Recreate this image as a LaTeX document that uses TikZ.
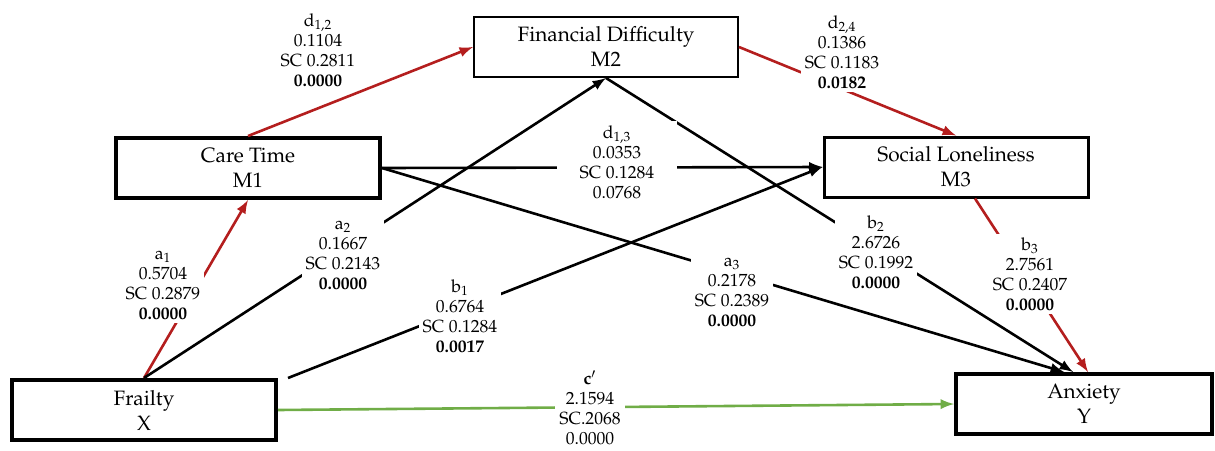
\documentclass[tikz,border=0pt]{standalone}
\usepackage[T1]{fontenc}
\usepackage{mathpazo}
\usepackage{xcolor}
\usetikzlibrary{arrows}

\definecolor{pathred}{RGB}{180,30,30}
\definecolor{pathgreen}{RGB}{112,173,71}

\begin{document}
\begin{tikzpicture}[
    x=0.5pt, y=-0.5pt,
    box/.style={rectangle, draw, line width=2pt, minimum width=132pt, minimum height=30pt, inner sep=0pt, align=center, font=\fontsize{10.4}{12.5}\selectfont},
    coef/.style={fill=white, inner sep=2pt, align=center, font=\fontsize{8.8}{10}\selectfont},
    link/.style={-latex, line width=1.3pt}
]
    \useasboundingbox (0,0) rectangle (1215,450);

    \node[box] (frailty) at (144,410) {Frailty\\X};
    \node[box] (care) at (248,168) {Care Time\\M1};
    \node[box, line width=1pt] (finance) at (606,47) {Financial Difficulty\\M2};
    \node[box, line width=1.5pt] (lonely) at (956,167) {Social Loneliness\\M3};
    \node[box, minimum width=128pt] (anxiety) at (1084,404) {Anxiety\\Y};

    \draw[link, pathred] (frailty.north) -- (care.south);
    \draw[link] (frailty.north) -- (finance.south);
    \draw[link] ([xshift=5pt]frailty.north east) -- (lonely.west);
    \draw[link, pathred] (care.north) -- (finance.west);
    \draw[link] (care.east) -- (lonely.west);
    \draw[link] (care.east) -- ([xshift=-10pt]anxiety.north);
    \draw[link] (finance.south) -- ([xshift=-5.5pt]anxiety.north);
    \draw[link, pathred] (finance.east) -- (lonely.north);
    \draw[link, pathred] ([xshift=9.5pt]lonely.south) -- ([xshift=2pt]anxiety.north);
    \draw[link, pathgreen] (frailty.east) -- (anxiety.west);

    % path coefficients
    \node[coef] (d12) at (318,50) {d\textsubscript{1,2}\\0.1104\\SC 0.2811\\\textbf{0.0000}};
    \node[coef] (d24) at (842,52) {d\textsubscript{2,4}\\0.1386\\SC 0.1183\\\textbf{0.0182}};
    \node[coef, minimum width=60pt] (d13) at (617,162) {d\textsubscript{1,3}\\0.0353\\SC 0.1284\\0.0768};
    \node[coef] (a1) at (163,285) {a\textsubscript{1}\\0.5704\\SC 0.2879\\\textbf{0.0000}};
    \node[coef] (a2) at (343,255) {a\textsubscript{2}\\0.1667\\SC 0.2143\\\textbf{0.0000}};
    \node[coef] (b1) at (460,316) {b\textsubscript{1}\\0.6764\\SC 0.1284\\\textbf{0.0017}};
    \node[coef] (a3) at (732,292) {a\textsubscript{3}\\0.2178\\SC 0.2389\\\textbf{0.0000}};
    \node[coef] (b2) at (876,252) {b\textsubscript{2}\\2.6726\\SC 0.1992\\\textbf{0.0000}};
    \node[coef] (b3) at (1030,274) {b\textsubscript{3}\\2.7561\\SC 0.2407\\\textbf{0.0000}};
    \node[coef] (c) at (590,408) {\textbf{c$'$}\\2.1594\\SC.2068\\0.0000};
\end{tikzpicture}
\end{document}
